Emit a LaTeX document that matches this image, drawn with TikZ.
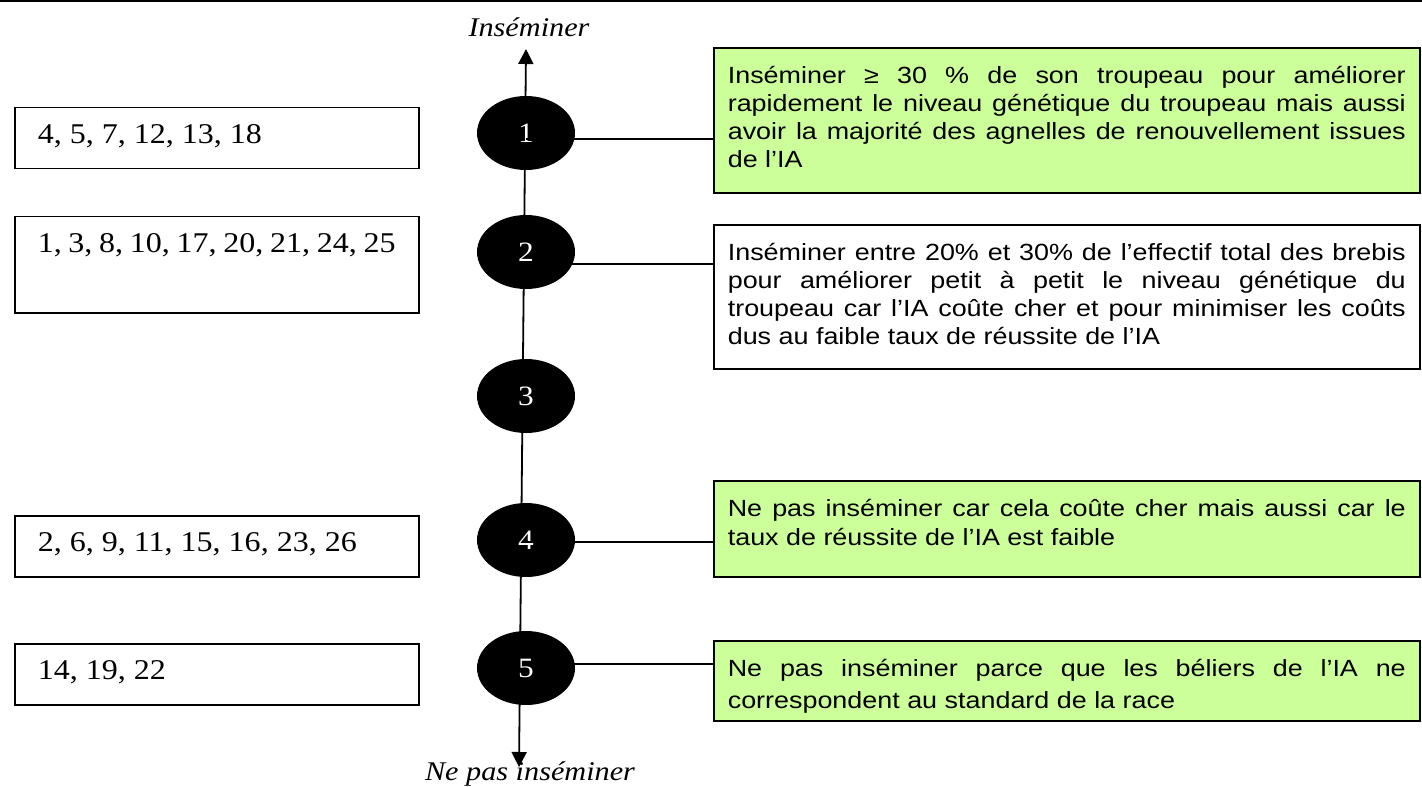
\documentclass[tikz,border=0pt]{standalone}
\usepackage{fontspec}
\setmainfont[FakeStretch=1.12]{Liberation Serif}
\newfontfamily\arialx[FakeStretch=1.15]{Liberation Sans}
\usetikzlibrary{arrows.meta,shapes.geometric}
\definecolor{vertclair}{HTML}{CCFF99}
\hyphenpenalty=10000
\exhyphenpenalty=10000
\newcommand{\cadre}[3]{\parbox[c][#1][t]{#2}{\rule{0pt}{18pt}#3}}
\tikzset{
  etape/.style={ellipse, fill=black, text=white, inner sep=0pt,
    minimum width=49pt, minimum height=37pt, font=\fontsize{14}{17}\selectfont},
  liste/.style={draw, line width=0.75pt, anchor=north west, inner xsep=11.5pt,
    inner ysep=0pt, font=\fontsize{14.3}{17}\selectfont},
  choix/.style={draw, line width=0.8pt, anchor=north west, inner xsep=7pt,
    inner ysep=0pt, font=\arialx\fontsize{11.7}{14}\selectfont},
  sens/.style={anchor=base, font=\itshape\fontsize{13.5}{16}\selectfont}
}
\begin{document}
\begin{tikzpicture}[x=0.5pt, y=-0.5pt]
      \useasboundingbox (0,0) rectangle (1422,786);
      \draw[line width=1pt] (0,1) -- (1422,1);
      \coordinate (haut) at (526,49);
      \coordinate (bas) at (519,767);
      \draw[line width=0.9pt, {Triangle[length=7.5pt,width=7.5pt]}-{Triangle[length=7.5pt,width=7.5pt]}]
        (bas) -- (haut);
      \draw
        (526,133) node[etape] (1){1}
        (526,252) node[etape] (2){2}
        (526,396) node[etape] (3){3}
        (526,540) node[etape] (4){4}
        (526,668) node[etape] (5){5};
      \node[sens] (ins) at (529,37) {Inséminer};
      \node[sens] (nonins) at (530,780) {Ne pas inséminer};
      % eleveurs
      \node[liste] (g1) at (14,107) {\cadre{30.5pt}{179pt}{4, 5, 7, 12, 13, 18}};
      \node[liste] (g2) at (14,216) {\cadre{48pt}{179pt}{1, 3, 8, 10, 17, 20, 21, 24, 25}};
      \node[liste] (g4) at (14,515) {\cadre{30.5pt}{179pt}{2, 6, 9, 11, 15, 16, 23, 26}};
      \node[liste] (g5) at (14,643) {\cadre{30.5pt}{179pt}{14, 19, 22}};
      % justifications
      \node[choix, fill=vertclair] (d1) at (713,47) {\cadre{72.5pt}{339pt}{Inséminer ≥ 30 \% de son troupeau pour améliorer\linebreak
        rapidement le niveau génétique du troupeau mais aussi\linebreak
        avoir la majorité des agnelles de renouvellement issues\linebreak
        de l’IA}};
      \node[choix] (d2) at (713,224) {\cadre{72pt}{339pt}{Inséminer entre 20\% et 30\% de l’effectif total des brebis\linebreak
        pour améliorer petit à petit le niveau génétique du\linebreak
        troupeau car l’IA coûte cher et pour minimiser les coûts\linebreak
        dus au faible taux de réussite de l’IA}};
      \node[choix, fill=vertclair, font=\arialx\fontsize{11.7}{14.5}\selectfont] (d4) at (713,480)
        {\cadre{48pt}{339pt}{Ne pas inséminer car cela coûte cher mais aussi car le\linebreak
        taux de réussite de l’IA est faible}};
      \node[choix, fill=vertclair, font=\arialx\fontsize{11.7}{16}\selectfont] (d5) at (713,640)
        {\cadre{40pt}{339pt}{Ne pas inséminer parce que les béliers de l’IA ne\linebreak
        correspondent au standard de la race}};
      \begin{scope}[line width=0.75pt]
        \draw ([yshift=-3pt]1.center) -- ([yshift=-3pt]1.center -| d1.west);
        \draw ([yshift=-6pt]2.center) -- ([yshift=-6pt]2.center -| d2.west);
        \draw ([yshift=-1pt]4.center) -- ([yshift=-1pt]4.center -| d4.west);
        \draw ([yshift=2pt]5.center) -- ([yshift=2pt]5.center -| d5.west);
      \end{scope}
    \end{tikzpicture}
\end{document}
